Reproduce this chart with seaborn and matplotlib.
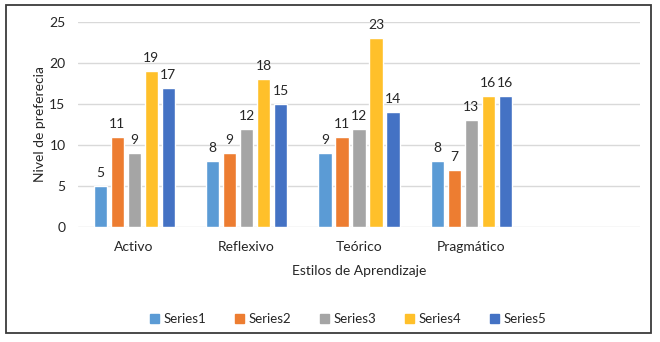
import matplotlib
matplotlib.use("Agg")
import matplotlib.pyplot as plt
import matplotlib.patches as mpatches
import pandas as pd
import seaborn as sns

# Learning-style preference scores per group
categories = ["Activo", "Reflexivo", "Teórico", "Pragmático"]
series_names = ["Series1", "Series2", "Series3", "Series4", "Series5"]
series1 = [5, 8, 9, 8]
series2 = [11, 9, 11, 7]
series3 = [9, 12, 12, 13]
series4 = [19, 18, 23, 16]
series5 = [17, 15, 14, 16]
palette = ["#5B9BD5", "#ED7D31", "#A5A5A5", "#FFC02A", "#4472C4"]

values = [series1, series2, series3, series4, series5]
df = pd.DataFrame(
    [(c, s, v) for s, vals in zip(series_names, values) for c, v in zip(categories, vals)],
    columns=["Estilo", "Serie", "Nivel"],
)

sns.set_theme(style="white")
plt.rcParams["font.family"] = ["Lato", "DejaVu Sans"]
text_color = "#262626"

fig = plt.figure(figsize=(6.6, 3.42), dpi=100)
ax = fig.add_axes([78 / 660, 1 - 227 / 342, (640 - 78) / 660, (227 - 22) / 342])

sns.barplot(
    data=df, x="Estilo", y="Nivel", hue="Serie", order=categories,
    hue_order=series_names, palette=palette, width=0.756, gap=0.22,
    saturation=1, ax=ax, legend=True,
)

for container in ax.containers:
    ax.bar_label(container, fmt="%d", padding=5, fontsize=10, color=text_color)

ax.set_xlim(-0.5, 4.5)
ax.set_ylim(0, 25)
ax.set_yticks([0, 5, 10, 15, 20, 25])
ax.yaxis.grid(True, color="#D9D9D9", linewidth=1)
ax.set_axisbelow(True)
for sp in ax.spines.values():
    sp.set_visible(False)
ax.tick_params(axis="both", length=0, labelsize=10, colors=text_color)
ax.tick_params(axis="y", pad=9)
ax.tick_params(axis="x", pad=10)

ax.set_xlabel("Estilos de Aprendizaje", fontsize=10, color=text_color, labelpad=9)
ax.set_ylabel("Nivel de preferecia", fontsize=10, color=text_color, labelpad=2)

ax.legend_.remove()
handles = [mpatches.Patch(color=c, label=n) for c, n in zip(palette, series_names)]
fig.legend(
    handles=handles, loc="center", bbox_to_anchor=(348 / 660, 1 - 319 / 342),
    ncol=5, frameon=False, fontsize=9.5, handlelength=0.7, handleheight=0.7,
    handletextpad=0.3, columnspacing=2.2, labelcolor=text_color,
)

# outer chart frame
fig.patches.append(mpatches.Rectangle(
    (6 / 660, 1 - 333 / 342), (651 - 6) / 660, (333 - 5) / 342,
    transform=fig.transFigure, fill=False, edgecolor="#3A3A3A", linewidth=1.3,
))

fig.savefig("out.png", dpi=100)
